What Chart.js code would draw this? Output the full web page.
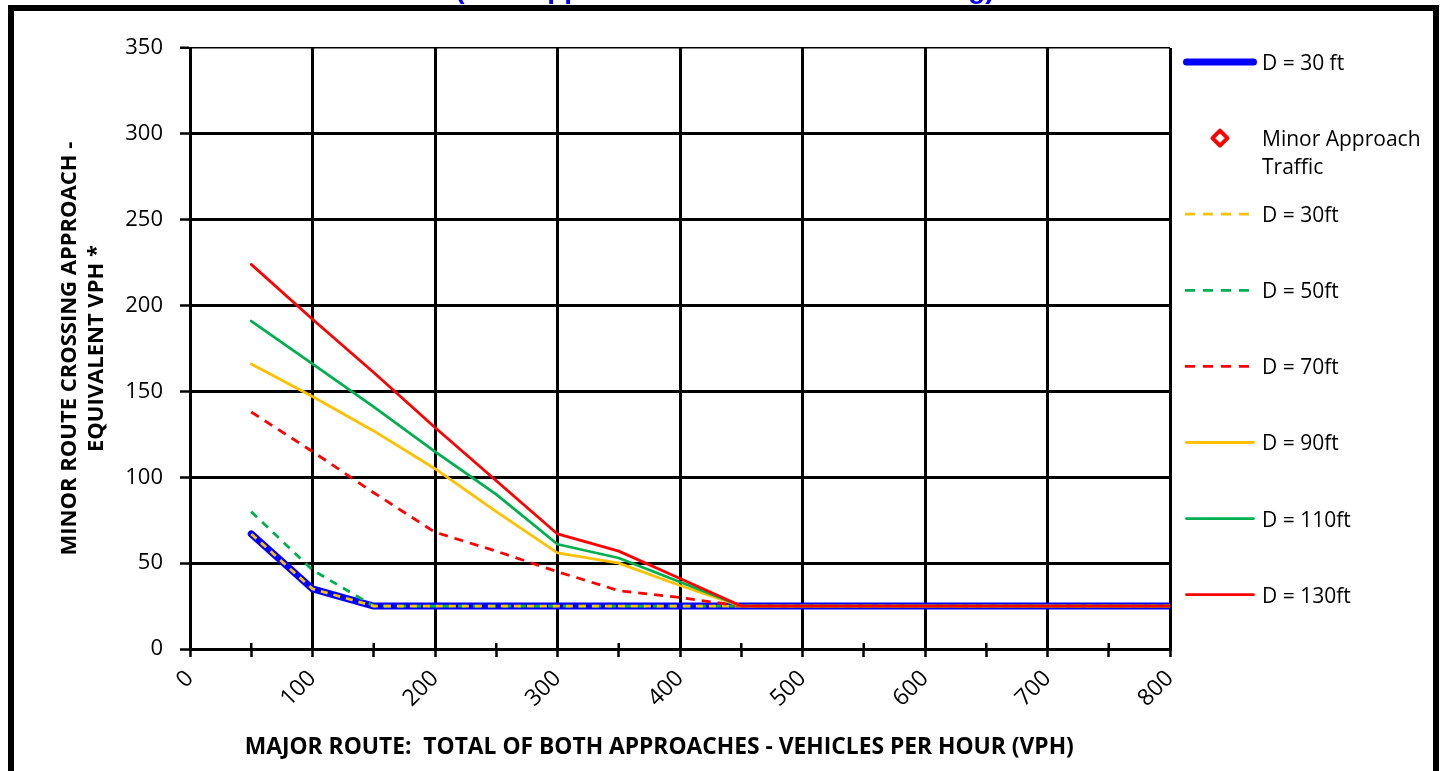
<!DOCTYPE html>
<html>
<head>
<meta charset="utf-8">
<script src="https://cdn.jsdelivr.net/npm/chart.js@4.4.1/dist/chart.umd.min.js"></script>
<style>
  html, body { margin: 0; padding: 0; background: #fff; }
  #wrap { position: relative; width: 1447px; height: 771px; }
</style>
</head>
<body>
<div id="wrap"><canvas id="warrantChart"></canvas></div>
<script>
/* Minor route crossing warrant chart */
const TITLE = '(One Approach with Two Lane Crossing)';
// trailing spaces pull the centred axis title left, as in the source sheet
const X_TITLE = 'MAJOR ROUTE:  TOTAL OF BOTH APPROACHES - VEHICLES PER HOUR (VPH)       ';
const Y_TITLE = ['MINOR ROUTE CROSSING APPROACH -', 'EQUIVALENT VPH *'];

const MAJOR_VPH = [50, 100, 150, 200, 250, 300, 350, 400, 450, 500, 550, 600, 650, 700, 750, 800];

const D30_BASE = [67, 35, 25, 25, 25, 25, 25, 25, 25, 25, 25, 25, 25, 25, 25, 25];
const MINOR_TRAFFIC = [];
const D30 = [67, 35, 25, 25, 25, 25, 25, 25, 25, 25, 25, 25, 25, 25, 25, 25];
const D50 = [80, 46, 25, 25, 25, 25, 25, 25, 25, 25, 25, 25, 25, 25, 25, 25];
const D70 = [138, 115, 91, 68, 57, 45, 34, 30, 25, 25, 25, 25, 25, 25, 25, 25];
const D90 = [166, 147, 127, 105, 80, 56, 50, 37, 25, 25, 25, 25, 25, 25, 25, 25];
const D110 = [191, 166, 141, 115, 90, 61, 53, 39, 25, 25, 25, 25, 25, 25, 25, 25];
const D130 = [224, 192, 161, 129, 98, 67, 57, 41, 25, 25, 25, 25, 25, 25, 25, 25];

const BLUE = '#0000ff', RED = '#ff0000', GREEN = '#00b050', GOLD = '#ffc000';
const TICK_FONT = { family: "'Open Sans'", size: 22 };
const TITLE_FONT = { family: "'Open Sans'", size: 22.8, weight: 'bold' };

function toPoints(values) {
  return MAJOR_VPH.map((x, i) => ({ x, y: values[i] }));
}

function lineSet(label, values, color, width, dash, order) {
  return {
    label,
    data: toPoints(values),
    borderColor: color,
    backgroundColor: color,
    borderWidth: width,
    borderDash: dash,
    borderCapStyle: dash.length ? 'butt' : 'round',
    borderJoinStyle: 'round',
    pointRadius: 0,
    tension: 0,
    fill: false,
    order,
  };
}

const datasets = [
  lineSet('D = 30 ft', D30_BASE, BLUE, 7, [], 7),
  {
    label: 'Minor Approach Traffic',
    legendText: ['Minor Approach', 'Traffic'],
    data: MINOR_TRAFFIC,
    showLine: false,
    pointStyle: 'rectRot',
    pointRadius: 7,
    borderColor: RED,
    backgroundColor: '#fff',
    borderWidth: 4,
    order: 0,
  },
  lineSet('D = 30ft', D30, GOLD, 2.8, [7, 6], 5),
  lineSet('D = 50ft', D50, GREEN, 2.8, [8, 7], 6),
  lineSet('D = 70ft', D70, RED, 2.8, [9, 7], 4),
  lineSet('D = 90ft', D90, GOLD, 2.8, [], 3),
  lineSet('D = 110ft', D110, GREEN, 2.8, [], 2),
  lineSet('D = 130ft', D130, RED, 2.8, [], 1),
];

// frame, clipped title, inner half of minor ticks and the side legend
const chartDecor = {
  id: 'chartDecor',
  afterDraw(chart) {
    const ctx = chart.ctx;
    ctx.save();

    ctx.strokeStyle = '#000';
    ctx.lineWidth = 6;
    ctx.strokeRect(11, 8, 1425, 1000);

    ctx.fillStyle = BLUE;
    ctx.font = "bold 28px 'Liberation Sans'";
    ctx.textAlign = 'center';
    ctx.textBaseline = 'alphabetic';
    ctx.fillText(TITLE, 725, -2);

    const xs = chart.scales.x;
    ctx.lineWidth = 2.5;
    ctx.beginPath();
    xs.ticks.forEach(t => {
      if (t.value % 100 === 0) return;
      const px = xs.getPixelForValue(t.value);
      ctx.moveTo(px, xs.top);
      ctx.lineTo(px, xs.top - 6);
    });
    ctx.stroke();

    ctx.font = "21px 'Open Sans'";
    ctx.textAlign = 'left';
    ctx.textBaseline = 'middle';
    chart.data.datasets.forEach((ds, i) => {
      const y = 62 + i * 76.1;
      ctx.save();
      if (ds.showLine === false) {
        const r = 7.5, cx = 1220;
        ctx.beginPath();
        ctx.moveTo(cx, y - r);
        ctx.lineTo(cx + r, y);
        ctx.lineTo(cx, y + r);
        ctx.lineTo(cx - r, y);
        ctx.closePath();
        ctx.fillStyle = ds.backgroundColor;
        ctx.fill();
        ctx.lineWidth = ds.borderWidth;
        ctx.strokeStyle = ds.borderColor;
        ctx.lineJoin = 'round';
        ctx.stroke();
      } else {
        ctx.strokeStyle = ds.borderColor;
        ctx.lineWidth = ds.borderWidth;
        ctx.lineCap = ds.borderCapStyle;
        const round = ds.borderCapStyle === 'round';
        ctx.setLineDash(ds.borderDash.length ? [10, 8] : []);
        ctx.beginPath();
        ctx.moveTo(round ? 1186.5 : 1185, y);
        ctx.lineTo(round ? 1253.5 : 1255, y);
        ctx.stroke();
      }
      ctx.restore();
      ctx.fillStyle = '#000';
      const lines = ds.legendText || [ds.label];
      lines.forEach((txt, k) => ctx.fillText(txt, 1262, y + 2 + k * 28));
    });

    ctx.restore();
  },
};

new Chart(document.getElementById('warrantChart'), {
  type: 'line',
  data: { datasets },
  plugins: [chartDecor],
  options: {
    responsive: true,
    maintainAspectRatio: false,
    animation: false,
    events: [],
    layout: { padding: { left: 0, right: 277, top: 48, bottom: 0 } },
    plugins: {
      legend: { display: false },
      tooltip: { enabled: false },
      title: { display: false },
    },
    scales: {
      x: {
        type: 'linear',
        min: 0,
        max: 800,
        afterFit: s => { s.height = 122; },
        border: { color: '#000', width: 3 },
        grid: {
          color: c => (c.tick && c.tick.value % 100 === 0 ? '#000' : 'rgba(0,0,0,0)'),
          lineWidth: 3,
          tickColor: '#000',
          tickWidth: 2.5,
          tickLength: 8,
        },
        ticks: {
          stepSize: 50,
          autoSkip: false,
          minRotation: 45,
          maxRotation: 45,
          padding: 8,
          color: '#000',
          font: { ...TICK_FONT, size: 23 },
          callback: v => (v % 100 === 0 ? v : ''),
        },
        title: {
          display: true,
          text: X_TITLE,
          color: '#000',
          font: TITLE_FONT,
          padding: { top: 0, bottom: 10 },
        },
      },
      y: {
        min: 0,
        max: 350,
        afterFit: s => { s.width = 190; },
        border: { color: '#000', width: 3 },
        grid: {
          color: '#000',
          lineWidth: c => (c.tick && c.tick.value === 350 ? 1.5 : 3),
          tickColor: '#000',
          tickWidth: 2.5,
          tickLength: 10,
        },
        ticks: {
          stepSize: 50,
          padding: 17,
          color: '#000',
          font: TICK_FONT,
        },
        title: {
          display: true,
          text: Y_TITLE,
          color: '#000',
          font: { ...TITLE_FONT, size: 22, lineHeight: 1.23 },
          padding: { top: 56, bottom: 0 },
        },
      },
    },
  },
});
</script>
</body>
</html>
